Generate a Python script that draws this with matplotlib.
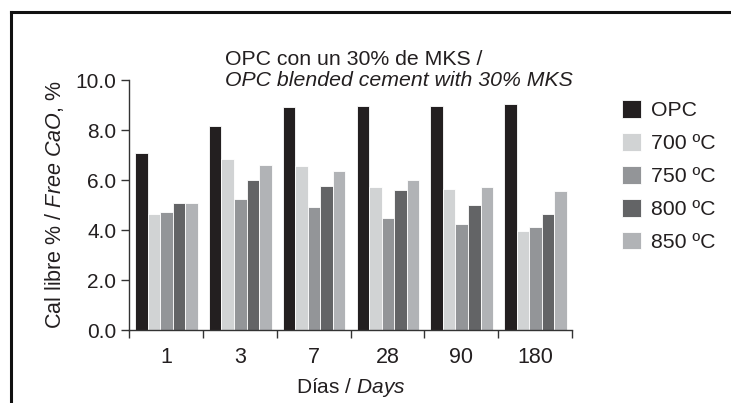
import numpy as np
import matplotlib
matplotlib.use("Agg")
import matplotlib.pyplot as plt
from matplotlib.lines import Line2D

plt.rcParams['font.family'] = ['Liberation Sans', 'DejaVu Sans']
plt.rcParams['mathtext.fontset'] = 'custom'
plt.rcParams['mathtext.rm'] = 'Liberation Sans'
plt.rcParams['mathtext.it'] = 'Liberation Sans:italic'

days = ["1", "3", "7", "28", "90", "180"]
series_names = ["OPC", "700 ºC", "750 ºC", "800 ºC", "850 ºC"]
opc = [7.07, 8.15, 8.91, 8.95, 8.95, 9.03]
t700 = [4.66, 6.83, 6.55, 5.74, 5.66, 3.98]
t750 = [4.74, 5.26, 4.94, 4.50, 4.26, 4.14]
t800 = [5.10, 6.02, 5.78, 5.62, 5.02, 4.66]
t850 = [5.10, 6.59, 6.35, 6.02, 5.74, 5.58]
series = [opc, t700, t750, t800, t850]
colors = ["#231f20", "#d1d3d4", "#939598", "#636466", "#b1b3b6"]
yticks = [0, 2, 4, 6, 8, 10]
ytick_labels = ["0.0", "2.0", "4.0", "6.0", "8.0", "10.0"]

W, H = 731, 403
fig = plt.figure(figsize=(W / 100, H / 100), dpi=100)
ax = fig.add_axes([129 / W, 1 - 330 / H, 443 / W, 250 / H])

x = np.arange(len(days))
bw = 0.17
for k, (vals, c, name) in enumerate(zip(series, colors, series_names)):
    ax.bar(x + (k - 2) * bw + 0.007, vals, width=bw, color=c, edgecolor="white",
           linewidth=0.6, label=name)

ax.set_xlim(-0.5, len(days) - 0.5)
ax.set_ylim(0, 10)
ax.set_yticks(yticks)
ax.set_yticklabels(ytick_labels)
ax.set_xticks(x)
ax.set_xticklabels(days)
ax.set_xticks(np.arange(-0.5, len(days)), minor=True)
ax.tick_params(axis="x", which="major", length=0, pad=12, labelsize=15.5, colors="#231f20")
ax.tick_params(axis="x", which="minor", length=6, width=1, color="#333333", direction="out")
ax.tick_params(axis="y", length=6, width=1, color="#333333", labelsize=15, pad=3, labelcolor="#231f20")
for s in ["top", "right"]:
    ax.spines[s].set_visible(False)
for s in ["left", "bottom"]:
    ax.spines[s].set_linewidth(1)
    ax.spines[s].set_color("#333333")

ax.set_ylabel(r"Cal libre % / $\mathit{Free}$ $\mathit{CaO}$, %", fontsize=15.5, color="#231f20", labelpad=7)
ax.set_xlabel(r"Días / $\mathit{Days}$", fontsize=15, color="#231f20", labelpad=6)

fig.text(225 / W, 1 - 65 / H, "OPC con un 30% de MKS /", fontsize=15.3, color="#231f20",
         ha="left", va="baseline")
fig.text(225 / W, 1 - 86 / H, "OPC blended cement with 30% MKS", fontsize=15.3, color="#231f20",
         ha="left", va="baseline", style="italic")

leg = ax.legend(loc="upper left", bbox_to_anchor=(618 / W, 1 - 96 / H),
                bbox_transform=fig.transFigure, frameon=False, fontsize=15.3,
                handlelength=0.9, handleheight=0.9, handletextpad=0.45,
                labelspacing=0.6, borderpad=0.2, borderaxespad=0)
for t in leg.get_texts():
    t.set_color("#231f20")

# outer frame (top and left edges)
fig.add_artist(Line2D([11 / W, 11 / W], [0, 1 - 12 / H], transform=fig.transFigure,
                      color="#111111", linewidth=2.2))
fig.add_artist(Line2D([11 / W, 1], [1 - 12 / H, 1 - 12 / H], transform=fig.transFigure,
                      color="#111111", linewidth=2.2))

fig.savefig("out.png", dpi=100)
